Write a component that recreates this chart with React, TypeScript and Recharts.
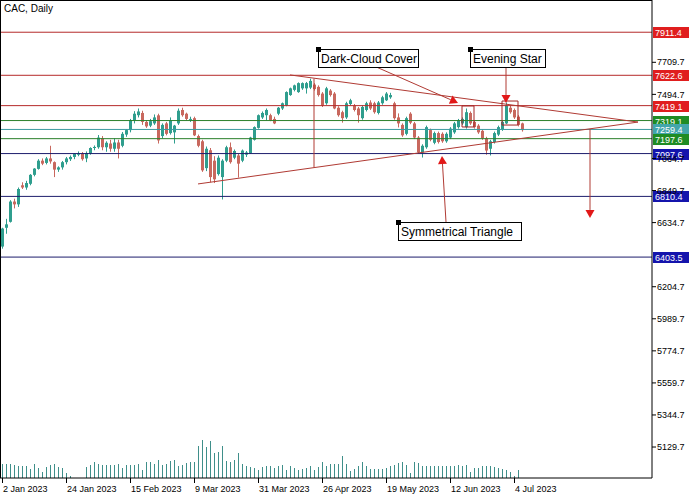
import React from "react";
import { Bar, ComposedChart, ReferenceDot, ReferenceLine, XAxis, YAxis } from "recharts";

// daily CAC candles, 2 Jan 2023 .. early Jul 2023
const opens = [
  6474, 6600, 6640, 6776, 6757, 6885, 6870, 6895, 6955, 6995, 7050, 7035, 7065, 7040, 6990, 7005, 7040, 7060, 7075, 7090,
  7095, 7065, 7100, 7135, 7140, 7200, 7140, 7165, 7130, 7172, 7150, 7225, 7255, 7320, 7355, 7370, 7310, 7285, 7300, 7354,
  7215, 7300, 7235, 7240, 7300, 7390, 7365, 7325, 7335, 7215, 7180, 7000, 7120, 7050, 6960, 6940, 7050, 7140, 7070, 7085,
  7050, 7090, 7100, 7190, 7270, 7340, 7355, 7355, 7330, 7365, 7400, 7420, 7490, 7525, 7510, 7535, 7535, 7540, 7560, 7545,
  7500, 7435, 7520, 7500, 7405, 7375, 7340, 7430, 7420, 7400, 7335, 7390, 7440, 7435, 7370, 7435, 7455, 7475, 7435, 7340,
  7290, 7230, 7365, 7300, 7205, 7105, 7140, 7255, 7170, 7235, 7230, 7180, 7205, 7240, 7275, 7300, 7275, 7370, 7310, 7285,
  7250, 7200, 7130, 7175, 7225, 7260, 7300, 7405, 7390, 7345, 7300,
];
const highs = [
  6600, 6660, 6785, 6795, 6870, 6905, 6915, 6960, 7000, 7060, 7065, 7075, 7150, 7045, 7012, 7048, 7075, 7085, 7100, 7112,
  7108, 7112, 7140, 7152, 7222, 7215, 7180, 7190, 7200, 7190, 7242, 7262, 7330, 7382, 7400, 7385, 7322, 7330, 7360, 7365,
  7300, 7310, 7340, 7290, 7400, 7405, 7372, 7345, 7345, 7225, 7190, 7145, 7135, 7080, 7085, 7060, 7150, 7172, 7125, 7095,
  7125, 7115, 7210, 7280, 7360, 7380, 7400, 7365, 7345, 7410, 7440, 7515, 7540, 7560, 7575, 7575, 7578, 7600, 7570, 7555,
  7510, 7545, 7530, 7510, 7415, 7385, 7445, 7465, 7430, 7410, 7420, 7445, 7455, 7445, 7450, 7485, 7510, 7505, 7445, 7367,
  7300, 7345, 7375, 7310, 7215, 7160, 7285, 7265, 7245, 7245, 7240, 7240, 7275, 7310, 7330, 7340, 7400, 7380, 7320, 7295,
  7260, 7210, 7190, 7245, 7285, 7320, 7440, 7420, 7400, 7355, 7305,
];
const lows = [
  6460, 6560, 6635, 6730, 6740, 6860, 6855, 6885, 6945, 6990, 7020, 7025, 7030, 6940, 6975, 6990, 7025, 7048, 7060, 7080,
  7050, 7040, 7090, 7120, 7130, 7120, 7110, 7110, 7110, 7065, 7140, 7210, 7240, 7300, 7340, 7290, 7270, 7275, 7290, 7165,
  7200, 7220, 7225, 7165, 7290, 7345, 7320, 7310, 7215, 7140, 6975, 6980, 6905, 6900, 6950, 6790, 7040, 7030, 7060, 6937,
  7040, 7075, 7095, 7185, 7265, 7330, 7320, 7315, 7295, 7355, 7390, 7415, 7485, 7515, 7505, 7525, 7500, 7530, 7520, 7480,
  7410, 7425, 7480, 7395, 7345, 7305, 7330, 7420, 7380, 7305, 7325, 7380, 7390, 7365, 7360, 7425, 7450, 7465, 7325, 7273,
  7210, 7220, 7295, 7195, 7095, 7071, 7130, 7180, 7160, 7165, 7170, 7170, 7195, 7230, 7265, 7290, 7265, 7290, 7265, 7230,
  7190, 7090, 7085, 7165, 7215, 7250, 7295, 7365, 7330, 7280, 7245,
];
const closes = [
  6595, 6623, 6776, 6757, 6860, 6870, 6900, 6955, 6997, 7050, 7030, 7065, 7045, 6990, 7005, 7040, 7065, 7075, 7095, 7100,
  7060, 7100, 7135, 7142, 7205, 7140, 7170, 7130, 7172, 7130, 7230, 7255, 7320, 7365, 7380, 7310, 7280, 7315, 7340, 7186,
  7290, 7230, 7320, 7285, 7385, 7355, 7330, 7330, 7220, 7150, 6985, 7130, 6940, 6925, 7070, 7050, 7140, 7040, 7115, 7030,
  7118, 7105, 7205, 7275, 7355, 7370, 7390, 7320, 7300, 7405, 7435, 7510, 7535, 7555, 7570, 7570, 7570, 7585, 7530, 7490,
  7420, 7535, 7490, 7400, 7355, 7335, 7435, 7455, 7390, 7355, 7410, 7435, 7400, 7375, 7440, 7475, 7500, 7490, 7335, 7300,
  7220, 7335, 7305, 7205, 7105, 7150, 7275, 7190, 7235, 7175, 7180, 7230, 7265, 7300, 7320, 7330, 7375, 7300, 7275, 7240,
  7200, 7118, 7180, 7235, 7275, 7310, 7420, 7375, 7340, 7290, 7255,
];
const volumes = [
  140, 140, 140, 130, 120, 120, 120, 90, 140, 100, 60, 110, 130, 140, 110, 100, 50, 20, 0, 0,
  0, 110, 130, 160, 140, 130, 130, 130, 130, 140, 100, 130, 130, 130, 140, 80, 160, 160, 140, 180,
  130, 140, 170, 180, 120, 130, 150, 160, 160, 320, 380, 310, 370, 250, 260, 320, 170, 160, 180, 250,
  140, 120, 110, 100, 80, 110, 120, 120, 100, 120, 130, 80, 120, 100, 80, 90, 100, 120, 80, 110,
  160, 120, 140, 140, 140, 220, 140, 70, 90, 120, 160, 120, 90, 90, 90, 90, 100, 120, 130, 150,
  160, 130, 50, 160, 150, 120, 120, 120, 120, 120, 120, 120, 120, 120, 130, 120, 130, 60, 100, 100,
  120, 120, 120, 110, 100, 90, 80, 60, 20, 80, 0,
];

const SLOTS = 163; // candles + empty shift area on the right

const tickIdx = [0, 16, 32, 48, 64, 80, 96, 112, 128];
const tickText = ["2 Jan 2023", "24 Jan 2023", "15 Feb 2023", "9 Mar 2023", "31 Mar 2023", "26 Apr 2023", "19 May 2023", "12 Jun 2023", "4 Jul 2023"];
const priceTicks = [5129.7, 5344.7, 5559.7, 5774.7, 5989.7, 6204.7, 6634.7, 6849.7, 7064.7, 7494.7, 7709.7];

const levels = [7911.4, 7622.6, 7419.1, 7319.1, 7259.4, 7197.6, 7097.6, 6810.4, 6403.5];
const levelKind = ["res", "res", "res", "fib", "mid", "fib", "sup", "sup", "sup"];

// triangle + annotations, in [index, price]
const trendLines = [
  [[72, 7625], [159, 7309]],
  [[49, 6894], [159, 7309]],
  [[78, 7600], [78, 7005]],
];
const arrows = [
  [[93, 7685], [114, 7437]],
  [[126, 7678], [126, 7437]],
  [[111, 6639], [110, 7081]],
  [[147, 7262], [147, 6666]],
];
const boxes = [
  [115, 118, 7417, 7276],
  [125, 129, 7450, 7289],
];
const notes = ["Dark-Cloud Cover", "Evening Star", "Symmetrical Triangle"];
const noteIdx = [79, 117, 99];
const notePrice = [7799, 7799, 6639];

const FONT = "'Liberation Sans', Arial, sans-serif";
const BULL = "#2f9e8e";
const BEAR = "#c8685e";
const VOL = "#3f8f8a";
const TREND = "#b03a33";
const HEAD = "#e21818";
const kindColors: Record<string, { line: string; tag: string }> = {
  res: { line: "#b52a2a", tag: "#e01e1e" },
  fib: { line: "#2a7f2a", tag: "#1f8c24" },
  mid: { line: "#3a9ba0", tag: "#43a6ab" },
  sup: { line: "#1c1c6c", tag: "#1414ac" },
};

const rows = Array.from({ length: SLOTS }, (_, i) =>
  i < closes.length
    ? { i, o: opens[i], h: highs[i], l: lows[i], c: closes[i], v: volumes[i] }
    : { i }
);

const Candle = (p: any) => {
  const { x, y, width, height, payload } = p;
  if (!payload || payload.h == null) return null;
  const { o, h, l, c } = payload;
  const k = height / (h - l);
  const py = (v: number) => y + (h - v) * k;
  const cx = Math.floor(x + width / 2);
  const col = c >= o ? BULL : BEAR;
  const top = py(Math.max(o, c));
  const bot = py(Math.min(o, c));
  return (
    <g>
      <rect x={cx} y={y} width={1} height={Math.max(height, 1)} fill={col} />
      <rect x={cx - 1} y={top} width={3} height={Math.max(bot - top, 1)} fill={col} />
    </g>
  );
};

const VolBar = (p: any) => {
  const { x, y, width, height } = p;
  if (!height || height <= 0) return null;
  return <rect x={Math.floor(x + width / 2)} y={y} width={1} height={height} fill={VOL} />;
};

const DateTick = (p: any) => {
  const { x, y, payload } = p;
  const k = tickIdx.indexOf(payload.value);
  if (k < 0) return null;
  const tx = Math.round(x);
  return (
    <g>
      <rect x={tx} y={y} width={1} height={5} fill="#000" />
      <text x={tx + 1} y={y + 14} fontSize={9} fontFamily={FONT} fill="#000" textAnchor="start">
        {tickText[k]}
      </text>
    </g>
  );
};

const LevelTag = (props: any) => {
  const vb = props.viewBox || {};
  const right = vb.x2 != null ? Math.max(vb.x1, vb.x2) : vb.x + vb.width;
  const y = vb.y1 != null ? vb.y1 : vb.y;
  return (
    <g>
      <rect x={right + 1} y={Math.round(y) - 5} width={36} height={11} fill={props.fill} />
      <text x={right + 3} y={Math.round(y) + 4} fontSize={9} fontFamily={FONT} fill="#fff">
        {props.text}
      </text>
    </g>
  );
};

const ArrowShape = (p: any) => {
  const { x1, y1, x2, y2 } = p;
  const dx = x2 - x1;
  const dy = y2 - y1;
  const len = Math.hypot(dx, dy) || 1;
  const ux = dx / len;
  const uy = dy / len;
  const bx = x2 - ux * 8;
  const by = y2 - uy * 8;
  const pts = `${x2},${y2} ${bx - uy * 4.5},${by + ux * 4.5} ${bx + uy * 4.5},${by - ux * 4.5}`;
  return (
    <g>
      <line x1={x1} y1={y1} x2={bx} y2={by} stroke={TREND} strokeWidth={1} />
      <polygon points={pts} fill={HEAD} />
    </g>
  );
};

const NoteBox = (p: any) => {
  const { cx, cy, text, w } = p;
  const x = Math.round(cx);
  const y = Math.round(cy);
  return (
    <g>
      <rect x={x + 0.5} y={y + 0.5} width={w} height={18} fill="#fff" stroke="#000" />
      <rect x={x - 2} y={y - 2} width={5} height={5} fill="#000" />
      <text x={x + 3} y={y + 14} fontSize={12} fontFamily={FONT} fill="#000">
        {text}
      </text>
    </g>
  );
};

const noteWidths = [100, 75, 123];

export default function App() {
  return (
    <div style={{ position: "absolute", left: 0, top: 0, width: 700, height: 500, background: "#fff" }}>
      <ComposedChart width={700} height={500} data={rows} margin={{ top: 0, right: 0, bottom: 0, left: 0 }}>
        <XAxis
          dataKey="i"
          type="category"
          interval={0}
          height={22}
          tickSize={0}
          tickMargin={0}
          tickLine={false}
          axisLine={{ stroke: "#000" }}
          tick={(p: any) => <DateTick {...p} />}
        />
        <XAxis xAxisId="vx" dataKey="i" type="category" hide />
        <YAxis
          yAxisId="p"
          orientation="right"
          width={48}
          type="number"
          domain={[4922, 8127.5]}
          allowDataOverflow
          ticks={priceTicks}
          interval={0}
          tickSize={4}
          tickMargin={1}
          axisLine={{ stroke: "#000" }}
          tickLine={{ stroke: "#000" }}
          tick={{ fontSize: 9, fill: "#000", fontFamily: FONT, textAnchor: "start" }}
        />
        <YAxis yAxisId="vol" type="number" domain={[0, 4780]} allowDataOverflow hide />

        {levels.map((v, k) => (
          <ReferenceLine
            key={"lv" + k}
            yAxisId="p"
            y={v}
            stroke={kindColors[levelKind[k]].line}
            strokeWidth={1}
            label={<LevelTag fill={kindColors[levelKind[k]].tag} text={v.toFixed(1)} />}
          />
        ))}

        <Bar
          xAxisId="vx"
          yAxisId="vol"
          dataKey="v"
          barSize={1}
          shape={(p: any) => <VolBar {...p} />}
          isAnimationActive={false}
        />
        <Bar
          yAxisId="p"
          dataKey={(d: any) => (d.h == null ? null : [d.l, d.h])}
          barSize={3}
          shape={(p: any) => <Candle {...p} />}
          isAnimationActive={false}
        />

        {trendLines.map((s, k) => (
          <ReferenceLine
            key={"tl" + k}
            yAxisId="p"
            segment={[{ x: s[0][0], y: s[0][1] }, { x: s[1][0], y: s[1][1] }]}
            stroke={TREND}
            strokeWidth={1}
          />
        ))}
        {boxes.map((b, k) =>
          [
            [[b[0], b[2]], [b[1], b[2]]],
            [[b[0], b[3]], [b[1], b[3]]],
            [[b[0], b[2]], [b[0], b[3]]],
            [[b[1], b[2]], [b[1], b[3]]],
          ].map((s, j) => (
            <ReferenceLine
              key={"bx" + k + "-" + j}
              yAxisId="p"
              segment={[{ x: s[0][0], y: s[0][1] }, { x: s[1][0], y: s[1][1] }]}
              stroke="#a32525"
              strokeWidth={1}
            />
          ))
        )}
        {arrows.map((s, k) => (
          <ReferenceLine
            key={"ar" + k}
            yAxisId="p"
            segment={[{ x: s[0][0], y: s[0][1] }, { x: s[1][0], y: s[1][1] }]}
            stroke={TREND}
            shape={(p: any) => <ArrowShape {...p} />}
          />
        ))}
        {notes.map((t, k) => (
          <ReferenceDot
            key={"nt" + k}
            yAxisId="p"
            x={noteIdx[k]}
            y={notePrice[k]}
            r={2}
            shape={(p: any) => <NoteBox {...p} text={t} w={noteWidths[k]} />}
          />
        ))}
      </ComposedChart>
      <div style={{ position: "absolute", left: 4, top: 3, fontSize: 10, fontFamily: FONT, color: "#000" }}>
        CAC, Daily
      </div>
      <div style={{ position: "absolute", left: 0, top: 0, width: 1, height: 478, background: "#000" }} />
      <div style={{ position: "absolute", left: 0, top: 0, width: 652, height: 1, background: "#000" }} />
    </div>
  );
}
